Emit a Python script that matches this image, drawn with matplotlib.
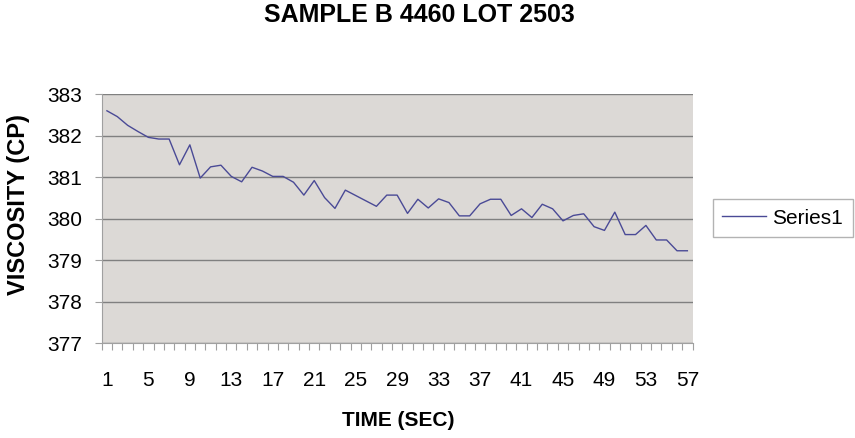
import matplotlib
matplotlib.use("Agg")
import matplotlib.pyplot as plt

# time points (sec) and viscosity readings (cP)
time_sec = list(range(1, 58))
viscosity = [382.60, 382.46, 382.25, 382.10, 381.96, 381.92, 381.92, 381.30,
             381.78, 380.98, 381.25, 381.29, 381.02, 380.89, 381.24, 381.15,
             381.02, 381.02, 380.88, 380.57, 380.92, 380.51, 380.25, 380.69,
             380.56, 380.43, 380.30, 380.57, 380.57, 380.13, 380.47, 380.26,
             380.48, 380.39, 380.07, 380.07, 380.36, 380.47, 380.47, 380.08,
             380.24, 380.03, 380.35, 380.24, 379.95, 380.08, 380.12, 379.81,
             379.72, 380.16, 379.62, 379.62, 379.84, 379.49, 379.49, 379.23,
             379.23]
x_labels = [1, 5, 9, 13, 17, 21, 25, 29, 33, 37, 41, 45, 49, 53, 57]
y_ticks = [377, 378, 379, 380, 381, 382, 383]

plt.rcParams['font.family'] = ['Liberation Sans', 'DejaVu Sans']

fig = plt.figure(figsize=(8.55, 4.38), dpi=100)
ax = fig.add_axes([0.119, 0.216, 0.691, 0.569])
ax.set_facecolor("#dcd9d6")

ax.plot(time_sec, viscosity, color="#4a4a96", linewidth=1.0, label="Series1")

ax.set_xlim(0.5, 57.5)
ax.set_ylim(377, 383)
ax.set_yticks(y_ticks)
ax.set_yticklabels([str(v) for v in y_ticks], fontsize=15)
ax.yaxis.grid(True, color="#808080", linewidth=1.0)
ax.set_axisbelow(True)

# category ticks between points, labels every 4th point
ax.set_xticks([t + 0.5 for t in [0] + time_sec], minor=False)
ax.set_xticklabels([])
ax.set_xticks(x_labels, minor=True)
ax.set_xticklabels([str(v) for v in x_labels], minor=True, fontsize=15)
ax.tick_params(axis="x", which="major", length=5, color="#a0a0a0", direction="out")
ax.tick_params(axis="x", which="minor", length=0, pad=20)
ax.tick_params(axis="y", length=5, color="#a0a0a0", pad=9)

for side in ["top", "right"]:
    ax.spines[side].set_visible(False)
for side in ["left", "bottom"]:
    ax.spines[side].set_color("#a0a0a0")

fig.text(0.49, 0.966, "SAMPLE B 4460 LOT 2503", ha="center", va="center",
         fontsize=18, fontweight="bold")
fig.text(0.466, 0.041, "TIME (SEC)", ha="center", va="center",
         fontsize=15, fontweight="bold")
fig.text(0.022, 0.532, "VISCOSITY (CP)", ha="center", va="center",
         rotation=90, fontsize=17, fontweight="bold")

leg = fig.legend(loc="center left", bbox_to_anchor=(0.834, 0.502), fontsize=15,
                 frameon=True, fancybox=False, handlelength=2.1,
                 handletextpad=0.3, borderpad=0.45, borderaxespad=0,
                 edgecolor="#a0a0a0")
leg.get_frame().set_linewidth(1.0)

fig.savefig("out.png", dpi=100)
